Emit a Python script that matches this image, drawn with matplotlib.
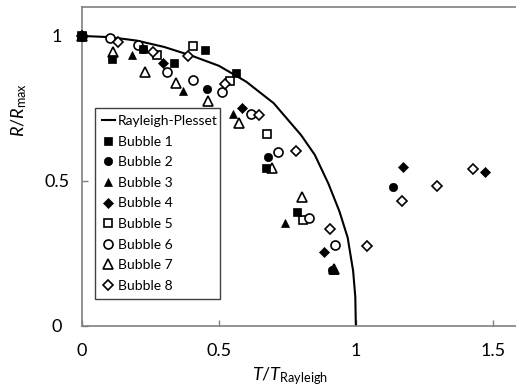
import numpy as np
import matplotlib.pyplot as plt

plt.rcParams['font.family'] = ['Lato', 'DejaVu Sans']
plt.rcParams['mathtext.fontset'] = 'custom'
plt.rcParams['mathtext.rm'] = 'Lato'
plt.rcParams['mathtext.it'] = 'Lato:italic'

# Rayleigh-Plesset curve
rp_t = [0, 0.1, 0.2, 0.3, 0.4, 0.5, 0.6, 0.7, 0.8, 0.85, 0.9, 0.94, 0.97, 0.99, 0.998, 1.0]
rp_r = [1.0, 0.996, 0.984, 0.962, 0.932, 0.897, 0.842, 0.768, 0.658, 0.59, 0.49, 0.395, 0.305, 0.19, 0.1, 0.0]

# measured bubbles (T/T_Rayleigh, R/R_max)
b1_t = [0, 0.108, 0.224, 0.336, 0.449, 0.562, 0.672, 0.784]
b1_r = [1.0, 0.920, 0.955, 0.906, 0.952, 0.873, 0.544, 0.394]
b2_t = [0, 0.224, 0.455, 0.680, 0.912, 1.134]
b2_r = [1.0, 0.955, 0.816, 0.582, 0.193, 0.480]
b3_t = [0, 0.181, 0.370, 0.552, 0.741, 0.920]
b3_r = [1.0, 0.934, 0.810, 0.731, 0.356, 0.193]
b4_t = [0, 0.295, 0.585, 0.883, 1.173, 1.471]
b4_r = [1.0, 0.906, 0.751, 0.256, 0.549, 0.530]
b5_t = [0, 0.272, 0.406, 0.540, 0.674, 0.808]
b5_r = [1.0, 0.934, 0.966, 0.846, 0.662, 0.366]
b6_t = [0, 0.102, 0.205, 0.309, 0.406, 0.510, 0.616, 0.716, 0.830, 0.923]
b6_r = [1.0, 0.992, 0.969, 0.877, 0.848, 0.808, 0.731, 0.598, 0.371, 0.279]
b7_t = [0, 0.112, 0.230, 0.343, 0.461, 0.574, 0.692, 0.805, 0.920]
b7_r = [1.0, 0.945, 0.877, 0.837, 0.777, 0.701, 0.544, 0.446, 0.197]
b8_t = [0, 0.132, 0.258, 0.388, 0.522, 0.647, 0.781, 0.905, 1.039, 1.169, 1.298, 1.428]
b8_r = [1.0, 0.980, 0.946, 0.931, 0.834, 0.728, 0.603, 0.333, 0.277, 0.432, 0.484, 0.540]

fig = plt.figure(figsize=(5.16, 3.87), dpi=100)
ax = fig.add_axes([0.159, 0.158, 0.849, 0.824])

ax.plot(rp_t, rp_r, color='black', lw=1.5, label='Rayleigh-Plesset', zorder=2)

series = [
    (b1_t, b1_r, 's', True, 5.5, 'Bubble 1'),
    (b2_t, b2_r, 'o', True, 6, 'Bubble 2'),
    (b3_t, b3_r, '^', True, 6, 'Bubble 3'),
    (b4_t, b4_r, 'D', True, 5, 'Bubble 4'),
    (b5_t, b5_r, 's', False, 6, 'Bubble 5'),
    (b6_t, b6_r, 'o', False, 6.5, 'Bubble 6'),
    (b7_t, b7_r, '^', False, 6.5, 'Bubble 7'),
    (b8_t, b8_r, 'D', False, 5.5, 'Bubble 8'),
]
# filled markers sit on top (first bubble last, so its square shows at (0, 1))
for i, (t, r, m, filled, ms, lab) in enumerate(series):
    z = (10 - i) if filled else 3
    ax.plot(t, r, linestyle='none', marker=m, markersize=ms,
            markerfacecolor='black' if filled else 'white',
            markeredgecolor='black', markeredgewidth=1.2 if not filled else 0.5,
            label=lab, zorder=z, clip_on=False)

ax.set_xlim(0, 1.6)
ax.set_ylim(0, 1.1)
ax.set_xticks([0, 0.5, 1, 1.5])
ax.set_xticklabels(['0', '0.5', '1', '1.5'])
ax.set_yticks([0, 0.5, 1])
ax.set_yticklabels(['0', '0.5', '1'])
for lab in ax.get_yticklabels():
    lab.set_ha('center')
ax.tick_params(axis='both', direction='in', length=4, width=1, color='#808080', labelsize=13)
ax.tick_params(axis='y', pad=18)
ax.tick_params(axis='x', pad=12)
for s in ax.spines.values():
    s.set_color('#808080')
    s.set_linewidth(1.2)

ax.set_xlabel(r'$T$/$T_{\mathrm{Rayleigh}}$', fontsize=13)
ax.xaxis.set_label_coords(0.475, -0.125)
ax.set_ylabel(r'$R$/$R_{\mathrm{max}}$', fontsize=13)
ax.yaxis.set_label_coords(-0.12, 0.677)

leg = ax.legend(loc='upper left', bbox_to_anchor=(0.03, 0.683, 0.285, 0.0), mode='expand',
                fontsize=10, numpoints=1, handlelength=0.9, handletextpad=0.25,
                labelspacing=0.62, borderpad=0.5, borderaxespad=0, fancybox=False,
                framealpha=1)
leg.set_zorder(20)
leg.get_frame().set_edgecolor('#404040')
leg.get_frame().set_linewidth(1.0)

fig.savefig('out.png', dpi=100)
